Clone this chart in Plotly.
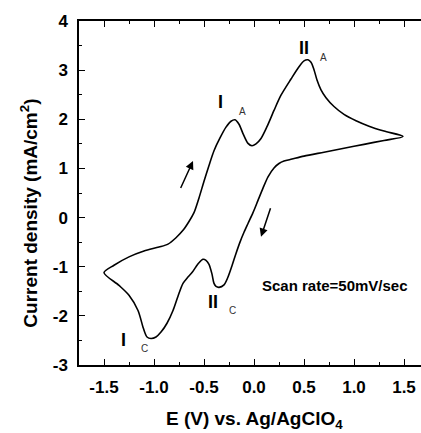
import plotly.graph_objects as go

# Forward scan (left tip -> right tip)
fwd_v = [-1.50, -1.40, -1.25, -1.10, -0.95, -0.86, -0.78, -0.71, -0.65, -0.60, -0.55, -0.50, -0.45,
         -0.40, -0.34, -0.28, -0.23, -0.19, -0.15, -0.11, -0.06, -0.02, 0.02, 0.07, 0.13, 0.20, 0.27,
         0.37, 0.45, 0.50, 0.54, 0.57, 0.60, 0.63, 0.67, 0.72, 0.80, 0.90, 1.02, 1.15, 1.30, 1.49]
fwd_i = [-1.12, -0.97, -0.80, -0.68, -0.60, -0.54, -0.41, -0.26, -0.08, 0.10, 0.40, 0.74, 1.06,
         1.36, 1.62, 1.84, 1.96, 1.99, 1.90, 1.71, 1.51, 1.46, 1.50, 1.61, 1.85, 2.18, 2.49,
         2.82, 3.07, 3.19, 3.21, 3.16, 3.01, 2.80, 2.60, 2.44, 2.26, 2.10, 1.97, 1.86, 1.76, 1.65]
# Reverse scan (right tip -> left tip)
rev_v = [1.49, 1.30, 1.10, 0.90, 0.70, 0.50, 0.38, 0.30, 0.25, 0.20, 0.14, 0.09, 0.04, -0.01, -0.06,
         -0.10, -0.14, -0.18, -0.22, -0.26, -0.30, -0.35, -0.38, -0.40, -0.42, -0.45, -0.48, -0.51,
         -0.55, -0.58, -0.62, -0.66, -0.71, -0.76, -0.81, -0.87, -0.93, -0.98, -1.03, -1.07, -1.09,
         -1.11, -1.16, -1.25, -1.35, -1.50]
rev_i = [1.65, 1.57, 1.49, 1.41, 1.33, 1.25, 1.19, 1.15, 1.10, 1.01, 0.83, 0.60, 0.35, 0.10, -0.12,
         -0.30, -0.50, -0.73, -0.98, -1.21, -1.37, -1.42, -1.40, -1.34, -1.15, -0.95, -0.87, -0.85,
         -0.92, -1.00, -1.12, -1.21, -1.34, -1.60, -1.89, -2.15, -2.33, -2.43, -2.46, -2.43, -2.35,
         -2.23, -1.89, -1.58, -1.38, -1.12]

x_ticks = [-1.5, -1.0, -0.5, 0.0, 0.5, 1.0, 1.5]
x_tick_text = ["-1.5", "-1.0", "-0.5", "0.0", "0.5", "1.0", "1.5"]
y_ticks = [-3, -2, -1, 0, 1, 2, 3, 4]
y_tick_text = ["-3", "-2", "-1", "0", "1", "2", "3", "4"]

FONT = "Liberation Sans, Arial, sans-serif"

fig = go.Figure()
fig.add_trace(go.Scatter(x=fwd_v + rev_v[1:], y=fwd_i + rev_i[1:], mode="lines",
                         line=dict(color="black", width=1.6, shape="spline", smoothing=0.8),
                         showlegend=False, hoverinfo="skip"))

axis_common = dict(showline=True, linecolor="black", linewidth=1.5, showgrid=False, zeroline=False,
                   ticks="inside", ticklen=6, tickwidth=1.3, tickcolor="black",
                   tickfont=dict(family=FONT, size=17, color="black", weight="bold"))

fig.update_xaxes(range=[-1.75, 1.67], tickvals=x_ticks, ticktext=x_tick_text, mirror="ticks",
                 minor=dict(ticks="inside", ticklen=3, tickwidth=1.2, tickcolor="black", dtick=0.25, tick0=0),
                 ticklabelstandoff=6, **axis_common)
fig.update_yaxes(range=[-3, 4], tickvals=y_ticks, ticktext=y_tick_text,
                 minor=dict(ticks="inside", ticklen=3, tickwidth=1.2, tickcolor="black", dtick=0.5, tick0=0),
                 ticklabelstandoff=6, **axis_common)

ann = []
def label(x, y, text, size, bold=True, color="black"):
    ann.append(dict(x=x, y=y, xref="x", yref="y", text=text, showarrow=False,
                    font=dict(family=FONT, size=size, color=color, weight="bold" if bold else "normal")))

label(-0.337, 2.35, "I", 18)
label(-0.12, 2.15, "A", 10, bold=False, color="#333")
label(0.50, 3.46, "II", 18)
label(0.695, 3.26, "A", 10, bold=False, color="#333")
label(-0.41, -1.72, "II", 18)
label(-0.22, -1.90, "C", 10, bold=False, color="#333")
label(-1.31, -2.50, "I", 18)
label(-1.10, -2.67, "C", 10, bold=False, color="#333")
label(0.81, -1.38, "Scan rate=50mV/sec", 15)

# arrows
ann.append(dict(x=-0.61, y=1.15, ax=-0.74, ay=0.57, xref="x", yref="y", axref="x", ayref="y",
                showarrow=True, arrowhead=2, arrowsize=1.1, arrowwidth=1.5, arrowcolor="black", text=""))
ann.append(dict(x=0.07, y=-0.39, ax=0.17, ay=0.22, xref="x", yref="y", axref="x", ayref="y",
                showarrow=True, arrowhead=2, arrowsize=1.1, arrowwidth=1.5, arrowcolor="black", text=""))

# axis titles
ann.append(dict(x=0.0, y=0, xref="x", yref="paper", yshift=-55, yanchor="middle", showarrow=False,
                text="E (V) vs. Ag/AgClO<sub>4</sub>",
                font=dict(family=FONT, size=19, color="black", weight="bold")))
ann.append(dict(x=0, y=0.44, xref="paper", yref="paper", xshift=-50, xanchor="center", showarrow=False,
                textangle=-90, text="Current density (mA/cm<sup>2</sup>)",
                font=dict(family=FONT, size=19, color="black", weight="bold")))

fig.update_layout(width=421, height=433, margin=dict(l=79, r=0, t=21, b=68),
                  plot_bgcolor="white", paper_bgcolor="white", annotations=ann)

fig.write_html("out.html")
